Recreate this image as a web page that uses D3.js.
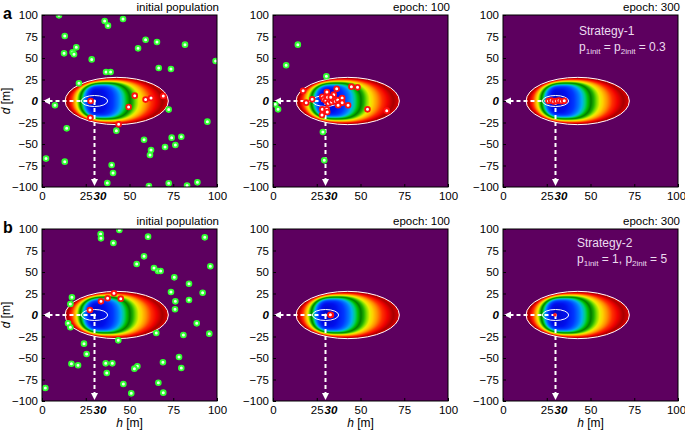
<!DOCTYPE html>
<html><head><meta charset="utf-8">
<script src="https://d3js.org/d3.v7.min.js"></script>
<style>body{margin:0;background:#fff} text{font-family:"Liberation Sans",Arial,sans-serif}</style>
</head><body><svg id="chart" width="685" height="431"></svg>
<script>
// ---------- data ----------
const hTicks = [0, 25, 50, 75, 100];
const dTicks = [-100, -75, -50, -25, 0, 25, 50, 75, 100];
const titles = ["initial population", "epoch: 100", "epoch: 300"];
const optimum = [30, 0];           // global optimum (h, d)
const outerEllipse = [42.7, 0, 29.5, 27.5]; // cx, cy, rx, ry
const innerEllipse = [30, 0, 7.5, 6.4];
const colorStops = [0, 0.15, 0.25, 0.31, 0.36, 0.40, 0.44, 0.48, 0.52, 0.56, 0.60, 0.64, 0.70, 0.77, 0.84, 0.92, 1.0];
const colorList = ["#0008c8", "#0010ee", "#0038ff", "#0070ff", "#00b0f0", "#00d080", "#00c000", "#007a00", "#20b000", "#80e000", "#e8f000", "#ffd000", "#ff9000", "#ff3000", "#f00000", "#a80000", "#e00000"];

const greenA1 = [[9.7,99.6],[35.8,93],[37.7,87.6],[46.3,95.3],[13,75.6],[59.2,71.3],[65.7,68.6],[81.7,65.5],[12.6,55.4],[19.6,62.4],[17.5,56.6],[18.3,54.3],[28.4,48.4],[54.9,61.2],[99.2,46.5],[66.7,38.4],[73.7,37.2],[36.6,33.7],[39.2,33.7],[21.1,20.5],[7.4,-5],[72.4,-10],[14.1,-31.8],[42.5,-34.5],[58.3,-45],[94.5,-24],[74.1,-42.6],[79.6,-41.5],[76.2,-51.2],[70.3,-53.5],[62.3,-57],[61.7,-62.8],[2.3,-67],[13,-70.5],[39.8,-74.4],[40.6,-83.7],[37.3,-95.3],[61.1,-98.8],[72.4,-95.7],[82.9,-98.4],[88.8,-94.6]];
const redA1 = [[27.8,0],[53,6.2],[59.2,1.6],[62.3,3.5],[69.3,5.8],[49.5,-7],[27.6,-19.4],[43.8,-27.1]];
const greenA2 = [[14.2,65.5],[7.5,41.5],[30.5,28.7],[1.3,-3.9],[2.9,-9.7],[28.5,-36],[29.3,-69]];
const redA2 = [[17.2,12],[19,-1.9],[22.4,1.9],[28.2,5],[30.8,10.5],[34.7,7.4],[36.4,14.3],[44.8,16.7],[48.3,15.9],[29.1,1.9],[30.3,0.4],[31.6,-2.7],[32.6,1.2],[33.5,-1.2],[34.5,1.9],[35.6,-0.4],[37,1.2],[38.3,-2.7],[39.5,3.5],[39.5,-1.9],[31.2,4.3],[33,4.3],[37.2,-5],[28.2,-9.7],[30.7,-9.7],[28,-16.3],[31,-12.8],[42.9,-5],[54,-9.7],[65,-11.2]];
const redA3 = [[26,0],[27.5,0.5],[29,-0.5],[30.5,0],[32,0.5],[33.5,-0.3],[35,0.3]];
const greenB1 = [[33.5,94.2],[33.7,89.1],[44.2,98.8],[40.8,83.7],[60.6,91.1],[93,90.3],[58.3,68.2],[54.1,59.3],[64,54.7],[66.3,51.2],[67.8,51.2],[96.2,56.6],[75.6,43.8],[84,36.4],[73.7,26.7],[91.8,25.9],[76.2,15.9],[84,17.4],[76,6.6],[17.1,20.5],[16.2,12.8],[14.9,-9.7],[16.2,-14.3],[88.4,-9.7],[95.6,-21.7],[80.8,-23.3],[65.3,-20.9],[43.6,-29.5],[24,-33.3],[25.5,-45.3],[16.8,-56.6],[20.6,-58.5],[36.4,-56.2],[40.2,-56.2],[37,-67.4],[69.1,-55],[78.3,-48.8],[79.6,-61.6],[54.5,-59.7],[52.8,-62.4],[66.5,-78.7],[69.3,-90.3],[46.5,-80.2],[51,-91.1],[1.9,-84.9]];
const redB1 = [[27.4,5.8],[33.7,15.9],[37.5,19.4],[41.1,25.2],[45,19]];
const redB2 = [[33.1,0],[32.8,0.2]];
const redB3 = [[29.7,0.3]];

// ---------- layout ----------
const svg = d3.select("#chart");
const W = 175, H = 172;
const colsX = [42, 273, 503];
const rowsY = [15, 229];
const panels = [
  {c:0,r:0,green:greenA1,red:redA1,title:titles[0]},
  {c:1,r:0,green:greenA2,red:redA2,title:titles[1]},
  {c:2,r:0,green:[],red:redA3,title:titles[2],note:["Strategy-1","s1"]},
  {c:0,r:1,green:greenB1,red:redB1,title:titles[0]},
  {c:1,r:1,green:[],red:redB2,title:titles[1]},
  {c:2,r:1,green:[],red:redB3,title:titles[2],note:["Strategy-2","s2"],small:true}
];
const color = d3.scaleLinear().domain(colorStops).range(colorList).interpolate(d3.interpolateRgb);
const bg = "#5d005f";

// fitness-level of a point: nested family of super-ellipses, t=0 at optimum, t=1 on outer contour
function levelF(h, d, t) {
  const [ocx, , A, B] = outerEllipse;
  const c = optimum[0] + (ocx - optimum[0]) * t;
  const a = A * t, b = B * Math.pow(t, 0.38);
  const n = 2 + 1.1 * (1 - t);
  return Math.pow(Math.abs(h - c) / a, n) + Math.pow(Math.abs(d) / b, n) - 1;
}
function field(h, d) {
  if (levelF(h, d, 1) > 0) return 2;
  let lo = 1e-4, hi = 1;
  for (let k = 0; k < 24; k++) {
    const m = (lo + hi) / 2;
    if (levelF(h, d, m) > 0) lo = m; else hi = m;
  }
  return (lo + hi) / 2;
}

function heatImage(x, y) {
  const cv = document.createElement("canvas");
  const sc = 2;
  cv.width = W*sc; cv.height = H*sc;
  const ctx = cv.getContext("2d");
  const img = ctx.createImageData(cv.width, cv.height);
  const x0 = x.range()[0], y0 = y.range()[1];
  const bgc = d3.rgb(bg);
  for (let j = 0; j < cv.height; j++) {
    for (let i = 0; i < cv.width; i++) {
      const h = x.invert(x0 + (i+0.5)/sc), d = y.invert(y0 + (j+0.5)/sc);
      const t = field(h, d);
      const c = t <= 1 ? d3.rgb(color(t)) : bgc;
      const k = (j*cv.width + i)*4;
      img.data[k] = c.r; img.data[k+1] = c.g; img.data[k+2] = c.b; img.data[k+3] = 255;
    }
  }
  ctx.putImageData(img, 0, 0);
  return cv.toDataURL();
}

panels.forEach(p => {
  const left = colsX[p.c], top = rowsY[p.r];
  const x = d3.scaleLinear().domain([0, 100]).range([left, left + W]);
  const y = d3.scaleLinear().domain([-100, 100]).range([top + H, top]);
  const g = svg.append("g");
  const clipId = "clip" + p.c + p.r;
  g.append("clipPath").attr("id", clipId).append("rect").attr("x", left).attr("y", top).attr("width", W).attr("height", H);
  const inner = g.append("g").attr("clip-path", `url(#${clipId})`);
  inner.append("image").attr("x", left).attr("y", top).attr("width", W).attr("height", H)
    .attr("preserveAspectRatio", "none").attr("href", heatImage(x, y));
  // contours
  inner.append("ellipse").attr("cx", x(outerEllipse[0])).attr("cy", y(outerEllipse[1]))
    .attr("rx", x(outerEllipse[2]) - x(0)).attr("ry", y(0) - y(outerEllipse[3]))
    .attr("fill", "none").attr("stroke", "#fff").attr("stroke-width", 1);
  inner.append("ellipse").attr("cx", x(innerEllipse[0])).attr("cy", y(innerEllipse[1]))
    .attr("rx", x(innerEllipse[2]) - x(0)).attr("ry", y(0) - y(innerEllipse[3]))
    .attr("fill", "none").attr("stroke", "#fff").attr("stroke-width", 1);
  // dashed arrows
  const ox = x(optimum[0]), oy = y(optimum[1]);
  inner.append("line").attr("x1", ox).attr("y1", oy).attr("x2", x(0) + 7).attr("y2", oy)
    .attr("stroke", "#fff").attr("stroke-width", 2).attr("stroke-dasharray", "4,3");
  inner.append("path").attr("d", `M${x(0)+1},${oy} L${x(0)+8},${oy-3.5} L${x(0)+8},${oy+3.5} Z`).attr("fill", "#fff");
  inner.append("line").attr("x1", ox).attr("y1", oy).attr("x2", ox).attr("y2", y(-100) - 7)
    .attr("stroke", "#fff").attr("stroke-width", 2).attr("stroke-dasharray", "4,3");
  inner.append("path").attr("d", `M${ox},${y(-100)-1} L${ox-3.5},${y(-100)-8} L${ox+3.5},${y(-100)-8} Z`).attr("fill", "#fff");
  inner.append("circle").attr("cx", ox).attr("cy", oy).attr("r", 1.6).attr("fill", "#fff");
  // points
  inner.selectAll(".gp").data(p.green).join("circle").attr("class", "gp")
    .attr("cx", d => x(d[0])).attr("cy", d => y(d[1])).attr("r", 2.4)
    .attr("fill", "#f0fff0").attr("stroke", "#30ff30").attr("stroke-width", 1.8);
  inner.selectAll(".rp").data(p.red).join("circle").attr("class", "rp")
    .attr("cx", d => x(d[0])).attr("cy", d => y(d[1])).attr("r", p.small ? 1.6 : 2.4)
    .attr("fill", p.small ? "#ff2020" : "#fff").attr("stroke", "#ff1010").attr("stroke-width", p.small ? 0.5 : 1.8);
  // frame
  g.append("rect").attr("x", left).attr("y", top).attr("width", W).attr("height", H)
    .attr("fill", "none").attr("stroke", "#000").attr("stroke-width", 1);
  // axes
  const xa = g.append("g").attr("transform", `translate(0,${top + H})`)
    .call(d3.axisBottom(x).tickValues(hTicks).tickSizeInner(-3).tickSizeOuter(0).tickPadding(5));
  const ya = g.append("g").attr("transform", `translate(${left},0)`)
    .call(d3.axisLeft(y).tickValues(dTicks).tickSizeInner(-3).tickSizeOuter(0).tickPadding(4)
      .tickFormat(d => d < 0 ? "\u2212" + Math.abs(d) : d));
  [xa, ya].forEach(a => {
    a.select(".domain").remove();
    a.selectAll("text").attr("font-size", 11.5).attr("fill", "#000")
      .style("font-family", '"Liberation Sans",Arial,sans-serif');
    a.selectAll("line").attr("stroke", "#000");
  });
  ya.selectAll(".tick").filter(d => d === 0).select("text")
    .attr("font-weight", "bold").attr("font-style", "italic");
  if (p.c === 2) xa.selectAll(".tick").filter(d => d === 100).select("text").attr("dx", -2);
  g.append("text").attr("x", x(optimum[0]) - 1).attr("y", top + H + 5).attr("dy", "0.71em")
    .attr("font-size", 11.5).attr("font-weight", "bold").attr("font-style", "italic")
    .text(String(optimum[0]));
  // title
  g.append("text").attr("x", left + W + 2).attr("y", top - 4).attr("text-anchor", "end")
    .attr("font-size", 11.5).text(p.title);
  if (p.c === 0) {
    g.append("text").attr("transform", `translate(${left - 32},${top + H/2}) rotate(-90)`)
      .attr("text-anchor", "middle").attr("font-size", 12)
      .html('<tspan font-style="italic">d</tspan> [m]');
  }
  if (p.r === 1) {
    g.append("text").attr("x", left + W/2).attr("y", top + H + 26).attr("text-anchor", "middle")
      .attr("font-size", 12).html('<tspan font-style="italic">h</tspan> [m]');
  }
  if (p.note) {
    const tx = p.note[1] === "s1" ? left + 76 : left + 74;
    const ty = p.note[1] === "s1" ? top + 20 : top + 18;
    const nt = g.append("g").attr("fill", "#ecdcf0").attr("font-size", 12);
    nt.append("text").attr("x", tx).attr("y", ty).text(p.note[0]);
    const t2 = nt.append("text").attr("x", tx).attr("y", ty + 16);
    if (p.note[1] === "s1") {
      t2.html('p<tspan font-size="8" dy="3">1init</tspan><tspan dy="-3"> = p</tspan><tspan font-size="8" dy="3">2init</tspan><tspan dy="-3"> = 0.3</tspan>');
    } else {
      t2.html('p<tspan font-size="8" dy="3">1init</tspan><tspan dy="-3"> = 1, p</tspan><tspan font-size="8" dy="3">2init</tspan><tspan dy="-3"> = 5</tspan>');
    }
  }
});
svg.append("text").attr("x", 3).attr("y", 19).attr("font-size", 16).attr("font-weight", "bold").text("a");
svg.append("text").attr("x", 3).attr("y", 233).attr("font-size", 16).attr("font-weight", "bold").text("b");
</script></body></html>
